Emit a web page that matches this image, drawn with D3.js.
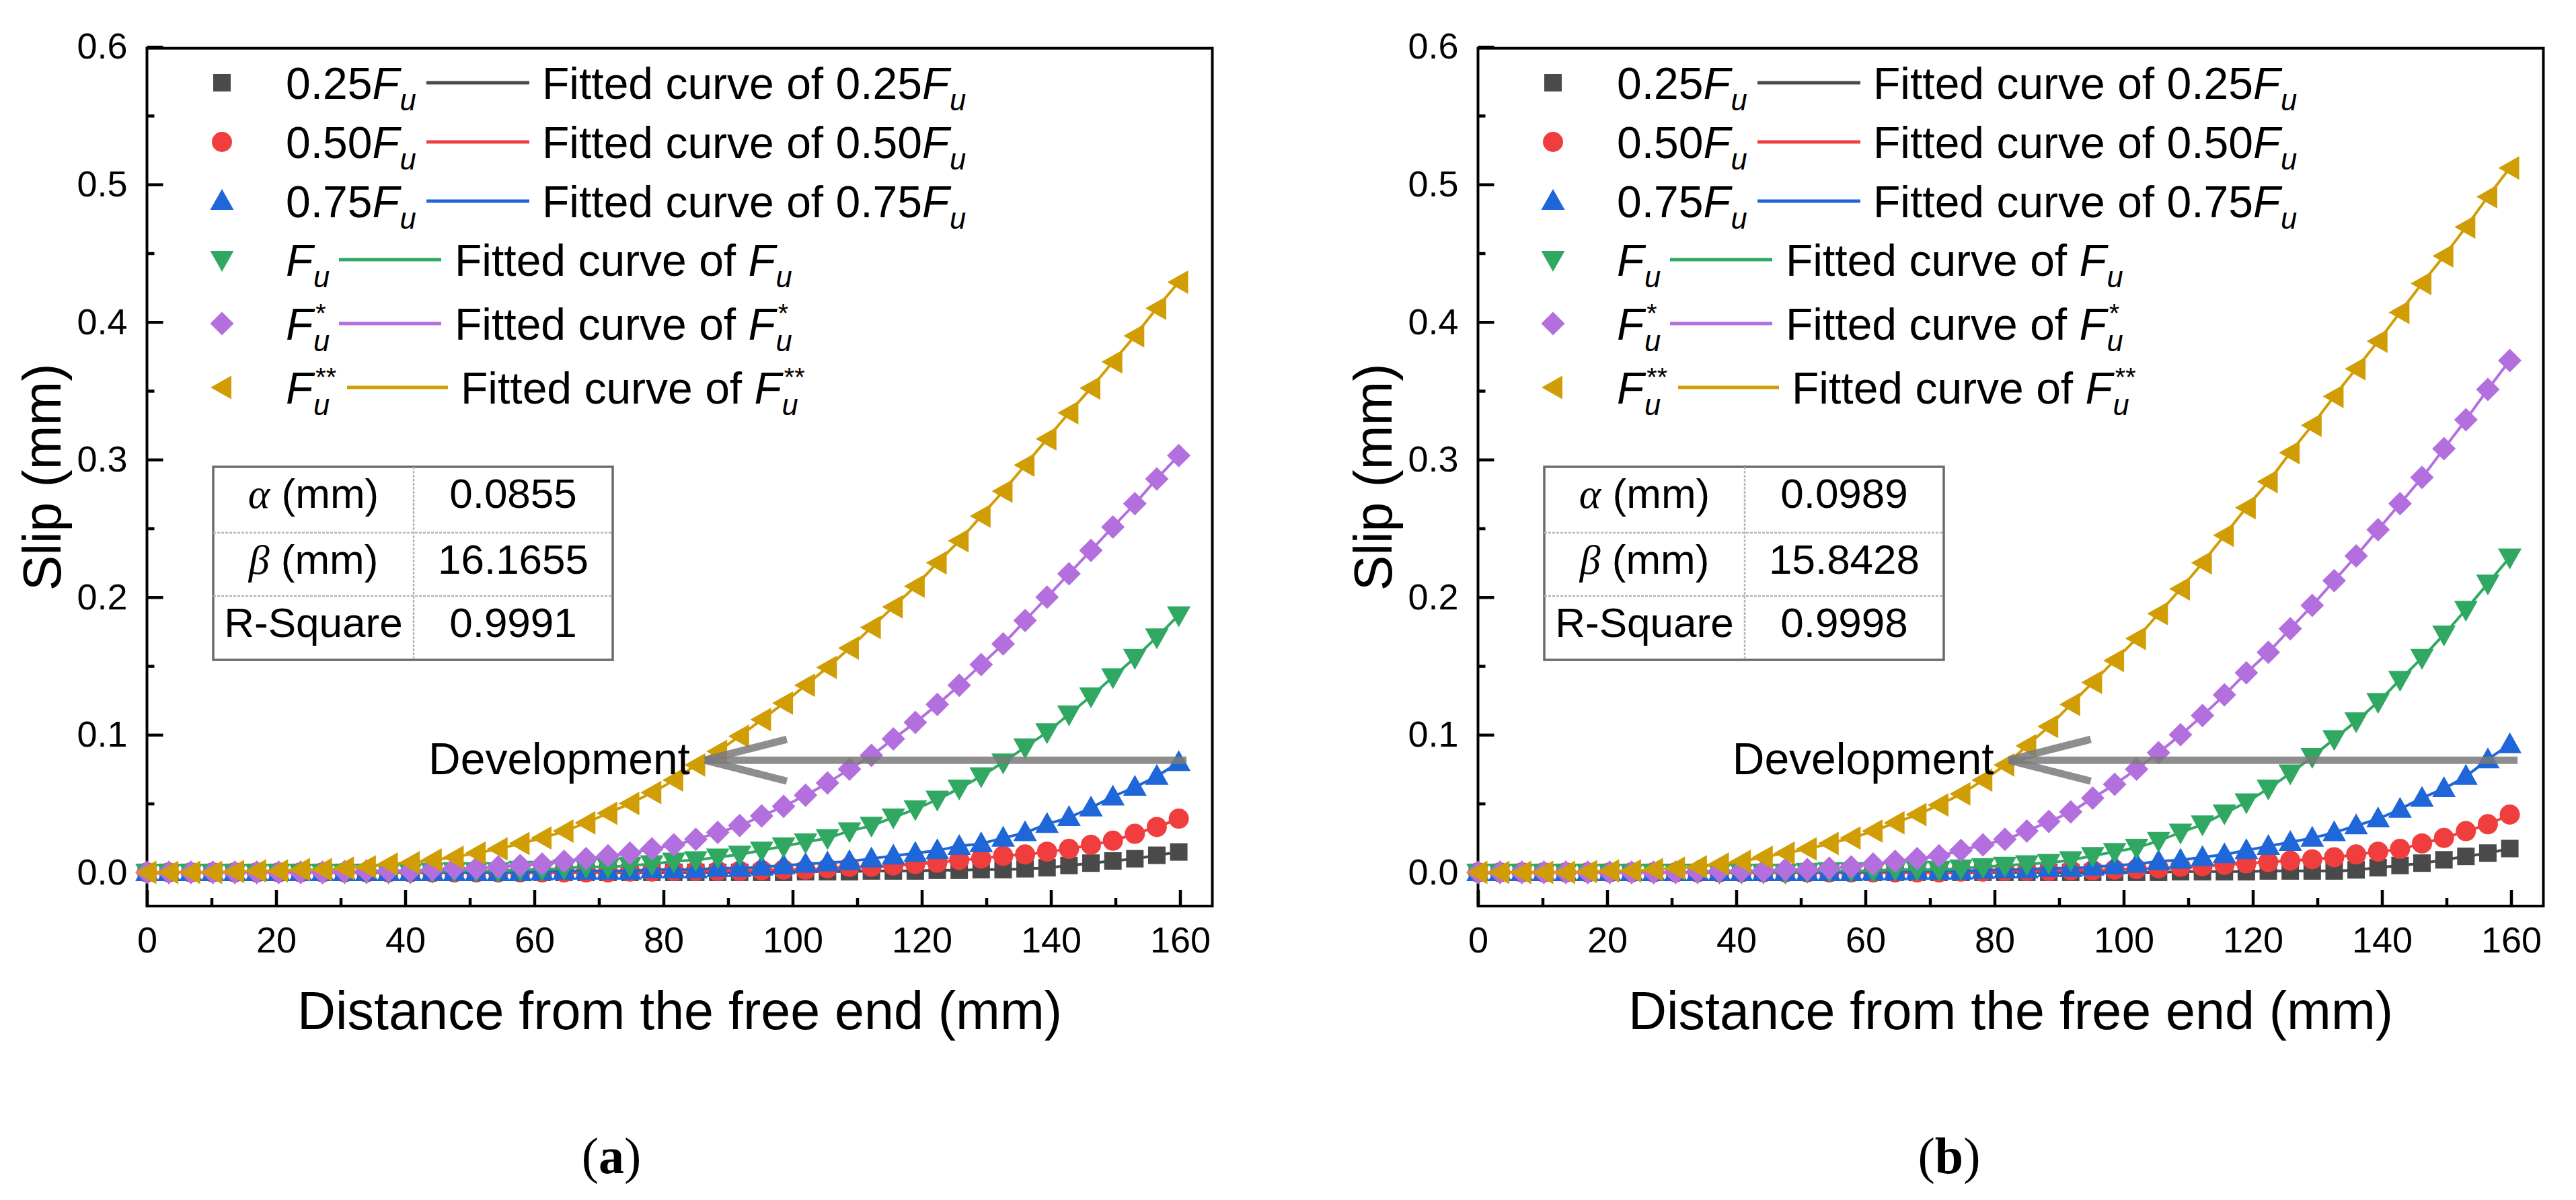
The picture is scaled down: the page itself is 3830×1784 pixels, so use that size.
<!DOCTYPE html>
<html>
<head>
<meta charset="utf-8">
<script src="https://cdn.jsdelivr.net/npm/d3@7"></script>
<style>
  body { margin: 0; background: #fff; }
</style>
</head>
<body>
<svg id="chart" width="3830" height="1784"></svg>
<script>
// distance from the free end (mm)
const distance = [0, 3.4, 6.8, 10.2, 13.6, 17, 20.4, 23.8, 27.2, 30.6, 34, 37.4, 40.8, 44.2, 47.6, 51,
  54.4, 57.8, 61.2, 64.6, 68, 71.4, 74.8, 78.2, 81.6, 85, 88.4, 91.8, 95.2, 98.6, 102, 105.4,
  108.8, 112.2, 115.6, 119, 122.4, 125.8, 129.2, 132.6, 136, 139.4, 142.8, 146.2, 149.6, 153, 156.4, 159.8];

const xTicks = [0, 20, 40, 60, 80, 100, 120, 140, 160];
const xMinor = [10, 30, 50, 70, 90, 110, 130, 150];
const yTicks = [0, 0.1, 0.2, 0.3, 0.4, 0.5, 0.6];
const yMinor = [0.05, 0.15, 0.25, 0.35, 0.45, 0.55];

// series labels: prefix before F, superscript after F
const loadPrefix = ["0.25", "0.50", "0.75", "", "", ""];
const loadSup = ["", "", "", "", "*", "**"];
const colors = ["#4a4a4a", "#f03d3d", "#1f66d8", "#30a862", "#b46fdf", "#d19d05"];
const shapes = ["square", "circle", "up", "down", "diamond", "left"];

// panel (a) slip (mm)
const slipA025 = [0,0,0,0,0,0,0,0,0,0,0,0,0,0,0,0,0,0,0,0,0,0,0,0,0,0,0,0,0,0,
  0.0005,0.0005,0.0005,0.001,0.001,0.001,0.0015,0.0015,0.002,0.002,0.0026,0.0034,0.005,0.0067,0.0083,0.0099,0.0124,0.0148];
const slipA050 = [0,0,0,0,0,0,0,0,0,0,0,0,0,0,0,0,0,0,0,0,0,0,
  0.0005,0.0005,0.001,0.001,0.001,0.001,0.0015,0.002,0.002,0.003,0.004,0.004,0.005,0.006,0.007,0.009,0.010,0.012,
  0.013,0.015,0.017,0.020,0.023,0.028,0.033,0.039];
const slipA075 = [0,0,0,0,0,0,0,0,0,0,0,0,0,0,0,0,0,0,
  0.0005,0.001,0.001,0.001,0.001,0.002,0.002,0.002,0.003,0.003,0.004,0.005,0.006,0.007,0.008,0.010,0.012,0.014,
  0.016,0.019,0.021,0.025,0.029,0.035,0.040,0.047,0.055,0.062,0.070,0.080];
const slipA100 = [0,0,0,0,0,0,0,0,0,0,0,0,0,
  0.0005,0.001,0.001,0.001,0.002,0.002,0.003,0.004,0.004,0.005,0.006,0.008,0.009,0.011,0.013,0.016,0.019,0.022,
  0.025,0.030,0.034,0.040,0.046,0.053,0.061,0.070,0.080,0.091,0.102,0.115,0.128,0.142,0.156,0.171,0.187];
const slipAStar = [0,0,0,0,0,0,0,0,0,
  0.0005,0.001,0.001,0.001,0.002,0.003,0.003,0.004,0.005,0.006,0.008,0.010,0.012,0.014,0.017,0.020,0.024,0.029,
  0.034,0.041,0.048,0.056,0.065,0.075,0.085,0.097,0.109,0.122,0.136,0.151,0.166,0.183,0.200,0.217,0.234,0.251,
  0.268,0.286,0.303];
const slipADStar = [0,0,0,0,
  0.0005,0.001,0.001,0.002,0.002,0.003,0.004,0.006,0.007,0.009,0.011,0.014,0.017,0.021,0.025,0.030,0.036,0.043,
  0.050,0.058,0.067,0.078,0.088,0.099,0.111,0.123,0.136,0.149,0.163,0.178,0.193,0.208,0.225,0.241,0.259,0.277,
  0.296,0.315,0.334,0.352,0.371,0.390,0.410,0.429];

// panel (b) slip (mm)
const slipB025 = [0,0,0,0,0,0,0,0,0,0,0,0,0,0,0,0,0,0,0,0,0,0,0,0,0,0,0,0,0,0,0,0,
  0.0005,0.0005,0.0005,0.0005,0.001,0.001,0.001,0.001,0.0018,0.0034,0.005,0.0067,0.0091,0.0116,0.014,0.0173];
const slipB050 = [0,0,0,0,0,0,0,0,0,0,0,0,0,0,0,0,0,0,0,0,0,0,
  0.0005,0.0005,0.001,0.001,0.001,0.0015,0.0015,0.002,0.0025,0.003,0.004,0.0045,0.0055,0.0065,0.0075,0.0085,
  0.0095,0.011,0.013,0.015,0.017,0.021,0.025,0.030,0.035,0.042];
const slipB075 = [0,0,0,0,0,0,0,0,0,0,0,0,0,0,0,0,0,0,
  0.0005,0.0005,0.001,0.001,0.001,0.0015,0.002,0.002,0.003,0.003,0.004,0.005,0.006,0.008,0.009,0.011,0.013,0.016,
  0.019,0.022,0.025,0.029,0.034,0.039,0.046,0.054,0.061,0.070,0.082,0.093];
const slipB100 = [0,0,0,0,0,0,0,0,0,0,0,0,0,0,0,
  0.0005,0.001,0.001,0.001,0.002,0.002,0.002,0.003,0.004,0.005,0.006,0.007,0.009,0.012,0.015,0.018,0.023,0.029,
  0.035,0.043,0.051,0.061,0.072,0.084,0.097,0.110,0.124,0.140,0.156,0.173,0.191,0.210,0.229];
const slipBStar = [0,0,0,0,0,0,0,0,0,0,
  0.0005,0.001,0.001,0.001,0.002,0.002,0.003,0.004,0.006,0.008,0.010,0.012,0.016,0.020,0.024,0.030,0.037,0.044,
  0.054,0.064,0.075,0.087,0.100,0.114,0.129,0.145,0.160,0.177,0.194,0.212,0.230,0.249,0.268,0.287,0.308,0.329,
  0.351,0.372];
const slipBDStar = [0,0,0,0,0,
  0.0005,0.001,0.001,0.002,0.003,0.004,0.006,0.008,0.011,0.014,0.017,0.021,0.025,0.030,0.036,0.042,0.049,0.057,
  0.067,0.078,0.092,0.106,0.122,0.138,0.154,0.170,0.188,0.206,0.225,0.245,0.265,0.284,0.305,0.325,0.346,0.366,
  0.386,0.407,0.428,0.448,0.469,0.491,0.512];

// fitted parameters shown in the inset tables
const tableLabels = ["α", "β", "R-Square"];
const tableA = ["0.0855", "16.1655", "0.9991"];
const tableB = ["0.0989", "15.8428", "0.9998"];

// "Development" arrow: tip and tail in data units
const arrowY = 0.0815;
const arrowTipA = 86.4, arrowTipB = 82.2, arrowTail = 161;

const SANS = "'Liberation Sans', Arial, Helvetica, sans-serif";
const SERIF = "'Liberation Serif', 'Times New Roman', serif";

const svg = d3.select("#chart");
svg.append("rect").attr("width", 3830).attr("height", 1784).attr("fill", "#fff");

function symbolPath(shape) {
  switch (shape) {
    case "square": return "M-13,-13H13V13H-13Z";
    case "circle": return d3.symbol(d3.symbolCircle, Math.PI * 15 * 15)();
    case "up": return "M0,-18L17.5,13L-17.5,13Z";
    case "down": return "M0,18L17.5,-13L-17.5,-13Z";
    case "diamond": return "M0,-17.5L17.5,0L0,17.5L-17.5,0Z";
    case "left": return "M-17,0L14,-17.5L14,17.5Z";
  }
}

// F with subscript u and optional superscript stars
function fuLabel(g, x, y, prefix, sup, fs) {
  const t = g.append("text").attr("x", x).attr("y", y).style("font-size", fs + "px");
  if (prefix) t.append("tspan").text(prefix);
  t.append("tspan").style("font-style", "italic").text("F");
  const w = t.node().getComputedTextLength();
  const sx = x + w + 0.01 * fs;
  g.append("text").attr("x", sx).attr("y", y + 0.26 * fs)
    .style("font-size", 0.66 * fs + "px").style("font-style", "italic").text("u");
  if (sup) {
    g.append("text").attr("x", sx + 0.05 * fs).attr("y", y - 0.4 * fs)
      .style("font-size", 0.6 * fs + "px").text(sup);
  }
}

function drawPanel(ox, series, table, arrowTip, caption) {
  const g = svg.append("g").attr("transform", `translate(${ox},0)`)
    .style("font-family", SANS).attr("fill", "#000");

  const x = d3.scaleLinear().domain([0, 165]).range([218.5, 1802.5]);
  const y = d3.scaleLinear().domain([-0.0245, 0.599]).range([1347, 71.7]);

  // axes
  const gy = g.append("g").attr("transform", `translate(${x.range()[0]},0)`)
    .call(d3.axisLeft(y).tickValues(yTicks).tickFormat(d3.format(".1f")).tickSize(-24).tickPadding(29));
  const gyMinor = g.append("g").attr("transform", `translate(${x.range()[0]},0)`)
    .call(d3.axisLeft(y).tickValues(yMinor).tickFormat("").tickSize(-11));
  const gx = g.append("g").attr("transform", `translate(0,${y.range()[0]})`)
    .call(d3.axisBottom(x).tickValues(xTicks).tickSize(-24).tickPadding(31));
  const gxMinor = g.append("g").attr("transform", `translate(0,${y.range()[0]})`)
    .call(d3.axisBottom(x).tickValues(xMinor).tickFormat("").tickSize(-12));
  [gy, gyMinor, gx, gxMinor].forEach(a => {
    a.select(".domain").remove();
    a.attr("font-family", SANS).attr("font-size", 54);
    a.selectAll("line").attr("stroke", "#000").attr("stroke-width", 4.5);
    a.selectAll("text").attr("fill", "#000");
  });

  g.append("rect")
    .attr("x", x.range()[0]).attr("y", y.range()[1])
    .attr("width", x.range()[1] - x.range()[0]).attr("height", y.range()[0] - y.range()[1])
    .attr("fill", "none").attr("stroke", "#000").attr("stroke-width", 4);

  // axis titles
  g.append("text")
    .attr("x", (x.range()[0] + x.range()[1]) / 2).attr("y", 1530)
    .attr("text-anchor", "middle").style("font-size", "79px")
    .text("Distance from the free end (mm)");
  g.append("text")
    .attr("transform", `translate(${x.range()[0] - 129},${(y.range()[0] + y.range()[1]) / 2}) rotate(-90)`)
    .attr("text-anchor", "middle").style("font-size", "79px")
    .text("Slip (mm)");

  // inset table
  const tb = g.append("g");
  const colX = [317, 615, 911];
  const rowY = [694, 792, 886, 981];
  tb.append("rect").attr("x", colX[0]).attr("y", rowY[0])
    .attr("width", colX[2] - colX[0]).attr("height", rowY[3] - rowY[0])
    .attr("fill", "#fff").attr("stroke", "#6b6b6b").attr("stroke-width", 3.5);
  [rowY[1], rowY[2]].forEach(ry => tb.append("line")
    .attr("x1", colX[0]).attr("x2", colX[2]).attr("y1", ry).attr("y2", ry)
    .attr("stroke", "#b5b5b5").attr("stroke-width", 2.5).attr("stroke-dasharray", "4,2"));
  tb.append("line").attr("x1", colX[1]).attr("x2", colX[1]).attr("y1", rowY[0]).attr("y2", rowY[3])
    .attr("stroke", "#b5b5b5").attr("stroke-width", 2.5).attr("stroke-dasharray", "4,2");
  tableLabels.forEach((lab, i) => {
    const base = rowY[i] + 61;
    const t = tb.append("text").attr("x", (colX[0] + colX[1]) / 2).attr("y", base)
      .attr("text-anchor", "middle").style("font-size", "62px");
    if (i < 2) {
      t.append("tspan").style("font-family", SERIF).style("font-style", "italic").text(lab);
      t.append("tspan").text(" (mm)");
    } else {
      t.text(lab);
    }
    tb.append("text").attr("x", (colX[1] + colX[2]) / 2).attr("y", base)
      .attr("text-anchor", "middle").style("font-size", "62px").text(table[i]);
  });

  // fitted curves and measured points, gold drawn last
  const line = d3.line().x((d, i) => x(distance[i])).y(d => y(d)).curve(d3.curveMonotoneX);
  series.forEach((vals, k) => {
    g.append("path").datum(vals).attr("d", line)
      .attr("fill", "none").attr("stroke", colors[k]).attr("stroke-width", 4);
    g.append("g").selectAll("path").data(vals).join("path")
      .attr("transform", (d, i) => `translate(${x(distance[i])},${y(d)})`)
      .attr("d", symbolPath(shapes[k])).attr("fill", colors[k]);
  });

  // Development arrow
  const ar = g.append("g").attr("stroke", "#7a7a7a").attr("stroke-width", 11)
    .attr("stroke-opacity", 0.85).attr("stroke-linecap", "butt");
  ar.append("line").attr("x1", x(arrowTail)).attr("x2", x(arrowTip))
    .attr("y1", y(arrowY)).attr("y2", y(arrowY));
  [-1, 1].forEach(s => ar.append("line")
    .attr("x1", x(arrowTip)).attr("y1", y(arrowY))
    .attr("x2", x(arrowTip + 12.7)).attr("y2", y(arrowY + s * 0.0152)));
  g.append("text").attr("x", x(arrowTip) - 22).attr("y", y(arrowY) + 21)
    .attr("text-anchor", "end").style("font-size", "66px").text("Development");

  // legend
  const lg = g.append("g").style("font-size", "66px");
  const symY = [123, 211, 299, 386, 481, 576];
  const lineX0 = [634, 634, 634, 504, 504, 516];
  const lineX1 = [787, 787, 787, 656, 656, 666];
  const fitX = [806, 806, 806, 676, 676, 685];
  symY.forEach((sy, k) => {
    lg.append("path").attr("transform", `translate(330,${sy})`)
      .attr("d", symbolPath(shapes[k])).attr("fill", colors[k]);
    lg.append("line").attr("x1", lineX0[k]).attr("x2", lineX1[k]).attr("y1", sy).attr("y2", sy)
      .attr("stroke", colors[k]).attr("stroke-width", 5);
    fuLabel(lg, 425, sy + 24, loadPrefix[k], loadSup[k], 66);
    fuLabel(lg, fitX[k], sy + 24, "Fitted curve of " + loadPrefix[k], loadSup[k], 66);
  });

  // sub-figure caption
  const cap = svg.append("text").attr("x", caption.x).attr("y", 1744)
    .attr("text-anchor", "middle").style("font-family", SERIF).style("font-size", "76px");
  cap.append("tspan").text("(");
  cap.append("tspan").style("font-weight", "bold").text(caption.label);
  cap.append("tspan").text(")");
}

drawPanel(0, [slipA025, slipA050, slipA075, slipA100, slipAStar, slipADStar], tableA, arrowTipA,
  { x: 909, label: "a" });
drawPanel(1979, [slipB025, slipB050, slipB075, slipB100, slipBStar, slipBDStar], tableB, arrowTipB,
  { x: 2898, label: "b" });
</script>
</body>
</html>
